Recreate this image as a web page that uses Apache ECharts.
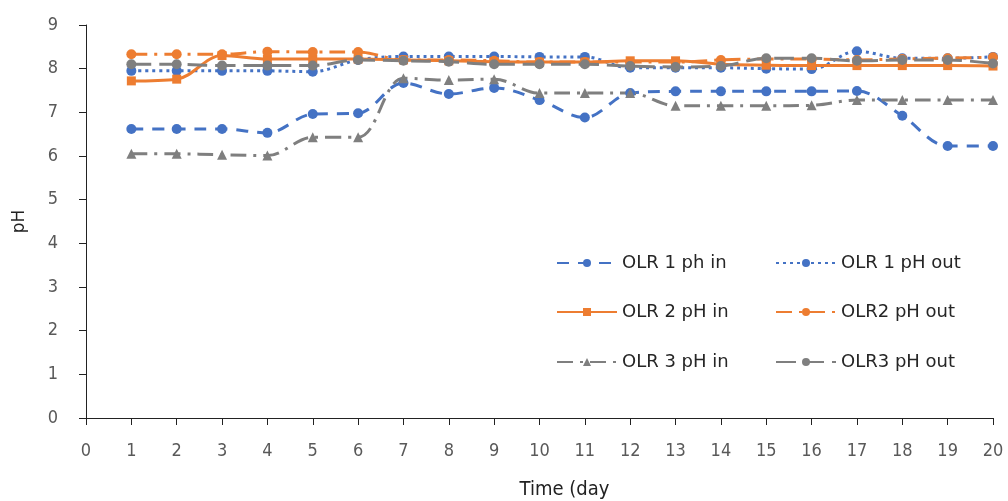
<!DOCTYPE html>
<html>
<head>
<meta charset="utf-8">
<script src="https://cdn.jsdelivr.net/npm/echarts@6/dist/echarts.min.js"></script>
<style>
html,body{margin:0;padding:0;background:#fff;}
#chart{width:1008px;height:501px;}
</style>
</head>
<body>
<div id="chart"></div>
<script>
const days = [1,2,3,4,5,6,7,8,9,10,11,12,13,14,15,16,17,18,19,20];
const xTicks = [0,1,2,3,4,5,6,7,8,9,10,11,12,13,14,15,16,17,18,19,20];
const yTicks = [0,1,2,3,4,5,6,7,8,9];
const seriesNames = ['OLR 1 ph in','OLR 1 pH out','OLR 2 pH in','OLR2 pH out','OLR 3 pH in','OLR3 pH out'];
const olr1In  = [6.62,6.62,6.62,6.53,6.96,6.98,7.67,7.42,7.56,7.28,6.88,7.44,7.48,7.48,7.48,7.48,7.49,6.92,6.23,6.23];
const olr1Out = [7.95,7.95,7.95,7.95,7.93,8.20,8.28,8.28,8.28,8.27,8.27,8.02,8.02,8.02,8.00,7.99,8.40,8.24,8.24,8.27];
const olr2In  = [7.72,7.76,8.30,8.22,8.22,8.22,8.20,8.18,8.16,8.15,8.15,8.18,8.18,8.10,8.08,8.07,8.07,8.07,8.07,8.06];
const olr2Out = [8.33,8.33,8.33,8.39,8.38,8.38,8.20,8.20,8.18,8.15,8.15,8.15,8.15,8.20,8.22,8.22,8.20,8.22,8.24,8.26];
const olr3In  = [6.05,6.05,6.03,6.01,6.43,6.43,7.78,7.74,7.76,7.44,7.44,7.44,7.15,7.15,7.15,7.16,7.28,7.28,7.28,7.28];
const olr3Out = [8.10,8.10,8.07,8.07,8.07,8.20,8.18,8.16,8.10,8.10,8.10,8.06,8.04,8.06,8.24,8.24,8.18,8.20,8.20,8.12];

const BLUE='#4472C4', ORANGE='#ED7D31', GRAY='#7F7F7F';
const NARROW = "'Liberation Sans Narrow','DejaVu Sans Condensed','Roboto Condensed',sans-serif";
function pairs(v){ return days.map((d,i)=>[d,v[i]]); }
function mk(name, data, color, dash, symbol, ssize){
  return {
    name, type:'line', data:pairs(data), smooth:0.35,
    symbol, symbolSize:ssize, showSymbol:true,
    lineStyle:{color, width:3, type:dash, cap:'butt'},
    itemStyle:{color, borderWidth:0},
    emphasis:{disabled:true}
  };
}
const series = [
  mk(seriesNames[0], olr1In, BLUE, [12,9], 'circle', 10),
  mk(seriesNames[1], olr1Out, BLUE, [3,4], 'circle', 10),
  mk(seriesNames[2], olr2In, ORANGE, 'solid', 'rect', 9),
  mk(seriesNames[3], olr2Out, ORANGE, [16,7,3,7], 'circle', 10),
  mk(seriesNames[4], olr3In, GRAY, [16,7,3,7], 'triangle', 10),
  mk(seriesNames[5], olr3Out, GRAY, [20,8], 'circle', 10)
];
const legendPos = [[551,249],[770,249],[551,298],[770,298],[551,348],[770,348]];
const legends = seriesNames.map((n,i)=>({
  data:[n], left:legendPos[i][0], top:legendPos[i][1], orient:'horizontal',
  itemWidth:60, itemHeight:10, itemGap:6, selectedMode:false,
  textStyle:{fontFamily:'DejaVu Sans', fontSize:18, color:'#262626'}
}));
const chart = echarts.init(document.getElementById('chart'));
chart.setOption({
  animation:false,
  backgroundColor:'#fff',
  grid:{left:86, right:15, top:25, bottom:83, containLabel:false, outerBoundsMode:'none'},
  legend:legends,
  xAxis:{
    type:'value', min:xTicks[0], max:xTicks[xTicks.length-1], interval:1,
    name:'Time (day', nameLocation:'middle', nameGap:62,
    nameTextStyle:{fontFamily:NARROW, fontSize:20, color:'#222', padding:[0,0,0,50]},
    axisLine:{show:true, lineStyle:{color:'#222', width:1}},
    axisTick:{show:true, inside:false, length:7, lineStyle:{color:'#222'}},
    axisLabel:{margin:24, fontFamily:NARROW, fontSize:18, color:'#595959'},
    splitLine:{show:false}
  },
  yAxis:{
    type:'value', min:yTicks[0], max:yTicks[yTicks.length-1], interval:1,
    name:'pH', nameLocation:'middle', nameGap:58, nameRotate:90,
    nameTextStyle:{fontFamily:'DejaVu Sans', fontSize:17, color:'#222'},
    axisLine:{show:true, lineStyle:{color:'#222', width:1}},
    axisTick:{show:true, inside:false, length:7, lineStyle:{color:'#222'}},
    axisLabel:{margin:28, fontFamily:NARROW, fontSize:18, color:'#595959'},
    splitLine:{show:false}
  },
  series
});
</script>
</body>
</html>
